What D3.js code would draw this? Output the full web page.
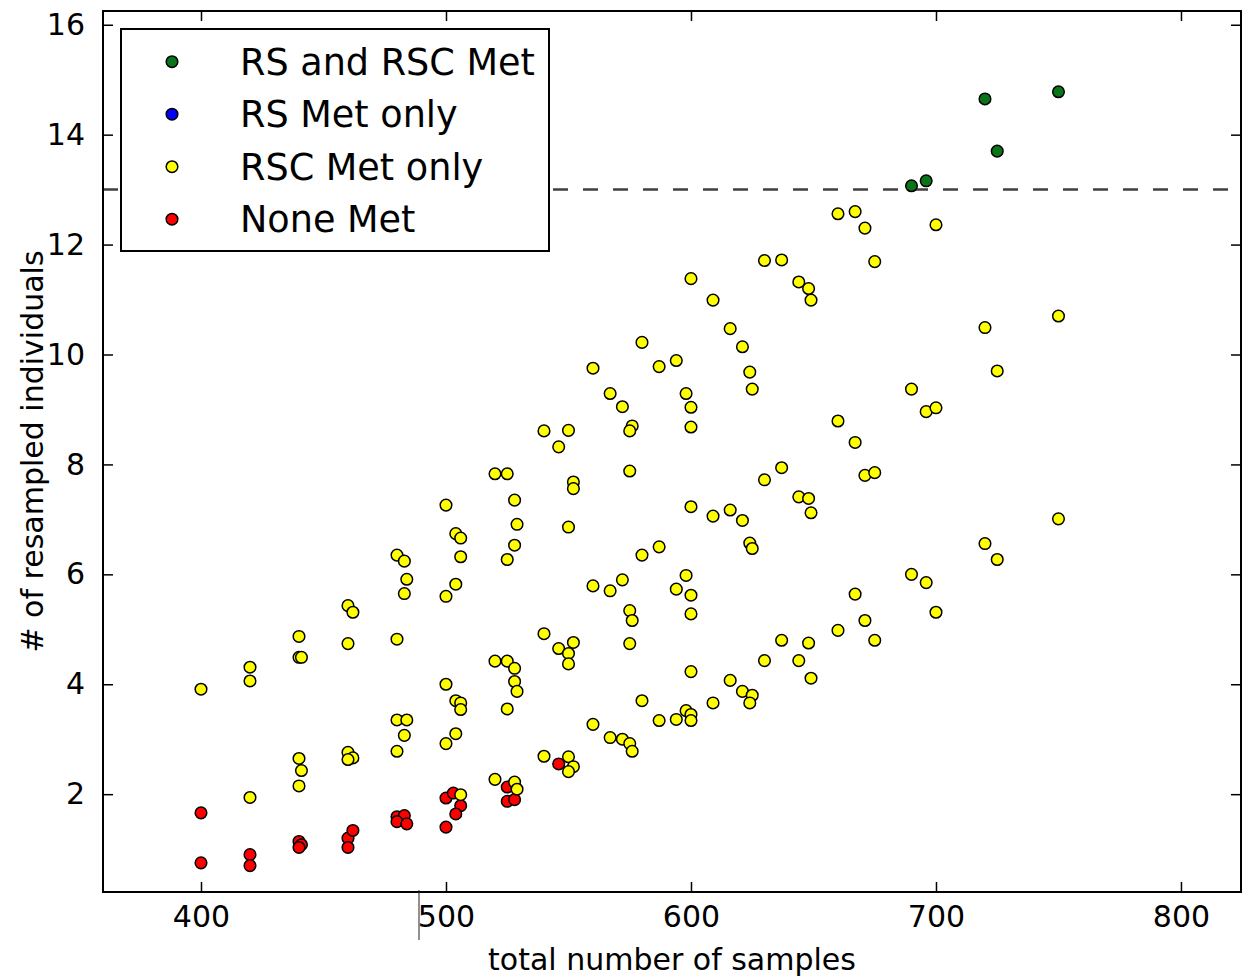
<!DOCTYPE html>
<html>
<head>
<meta charset="utf-8">
<script src="https://cdn.jsdelivr.net/npm/d3@7"></script>
<style>
  body { margin: 0; background: #fff; }
  text { font-family: "DejaVu Sans", sans-serif; fill: #000; }
</style>
</head>
<body>
<svg id="chart" width="1244" height="977"></svg>
<script>
// ---- data: [total samples, resampled individuals] ----
let bothMet = [
  [690, 13.07], [696, 13.16], [720, 14.65], [725, 13.70], [750, 14.78]
];
let rsOnly = [];   // nothing in this category, legend entry only
let rscOnly = [
  [400, 3.91],
  [420, 4.31], [420, 4.06], [420, 1.94],
  [440, 4.87], [440, 4.49], [441, 4.49], [440, 2.65], [441, 2.43], [440, 2.15],
  [460, 5.43], [462, 5.31], [460, 4.74], [460, 2.76], [462, 2.66], [460, 2.63],
  [480, 6.35], [483, 6.24], [484, 5.91], [483, 5.65], [480, 4.82], [480, 3.35], [484, 3.35], [483, 3.07], [480, 2.78],
  [500, 7.26], [504, 6.74], [506, 6.66], [506, 6.32], [504, 5.82], [500, 5.60], [500, 4.00], [504, 3.70], [506, 3.66],
  [506, 3.54], [504, 3.10], [500, 2.92], [506, 1.99],
  [520, 7.83], [525, 7.83], [528, 7.35], [529, 6.91], [528, 6.53], [525, 6.27], [520, 4.42], [525, 4.42], [528, 4.29],
  [528, 4.05], [529, 3.87], [525, 3.55], [520, 2.27], [528, 2.22], [529, 2.09],
  [540, 8.61], [546, 8.32], [550, 8.62], [552, 7.68], [552, 7.56], [550, 6.86], [540, 4.92], [546, 4.65], [552, 4.76],
  [550, 4.56], [550, 4.37], [540, 2.69], [550, 2.68], [552, 2.50], [550, 2.41],
  [560, 9.75], [567, 9.29], [572, 9.05], [576, 8.70], [575, 8.61], [575, 7.88], [560, 5.79], [567, 5.70], [572, 5.90],
  [575, 5.34], [576, 5.16], [575, 4.74], [560, 3.27], [567, 3.03], [572, 3.00], [575, 2.92], [576, 2.78],
  [580, 10.22], [587, 9.78], [594, 9.89], [598, 9.29], [600, 9.04], [600, 8.68], [580, 6.35], [587, 6.50], [594, 5.73],
  [598, 5.98], [600, 5.62], [600, 5.28], [580, 3.70], [587, 3.34], [594, 3.36], [598, 3.52], [600, 3.45], [600, 3.34],
  [600, 11.38], [609, 10.99], [616, 10.47], [621, 10.14], [624, 9.68], [625, 9.37], [600, 7.23], [609, 7.06], [616, 7.17],
  [621, 6.98], [624, 6.57], [625, 6.47], [600, 4.23], [609, 3.66], [616, 4.07], [621, 3.87], [625, 3.80], [624, 3.66],
  [630, 11.71], [637, 11.72], [644, 11.32], [648, 11.20], [649, 10.99], [630, 7.72], [637, 7.94], [644, 7.41], [648, 7.38],
  [649, 7.12], [630, 4.43], [637, 4.80], [644, 4.43], [648, 4.75], [649, 4.11],
  [660, 12.56], [667, 12.60], [671, 12.30], [675, 11.69], [660, 8.79], [667, 8.40], [671, 7.80], [675, 7.85],
  [660, 4.98], [667, 5.64], [671, 5.16], [675, 4.80],
  [690, 9.37], [696, 8.96], [700, 12.36], [700, 9.03], [690, 6.00], [696, 5.85], [700, 5.31],
  [720, 10.49], [720, 6.56], [725, 9.70], [725, 6.27],
  [750, 10.70], [750, 7.01]
];
let noneMet = [
  [400, 1.66], [400, 0.75], [420, 0.90], [420, 0.70], [440, 1.14], [441, 1.08], [440, 1.03],
  [460, 1.20], [460, 1.03], [462, 1.34], [480, 1.59], [483, 1.61], [480, 1.50], [484, 1.46],
  [500, 1.93], [503, 2.02], [506, 1.79], [504, 1.64], [500, 1.40], [525, 2.13], [525, 1.87],
  [528, 1.90], [546, 2.55]
];

let seriesNames = ["RS and RSC Met", "RS Met only", "RSC Met only", "None Met"];
let seriesColors = ["#0a7418", "#0000ff", "#ffff00", "#ff0000"];
let xTicks = [400, 500, 600, 700, 800];
let yTicks = [2, 4, 6, 8, 10, 12, 14, 16];
let threshold = 13;

// ---- layout ----
let svg = d3.select("#chart");
let margin = {left: 103, top: 11, right: 3, bottom: 85};
let width = 1244 - margin.left - margin.right;
let height = 977 - margin.top - margin.bottom;
let dotR = 5.8;

let xscale = d3.scaleLinear().domain([360, 824.5]).range([0, width]);
let yscale = d3.scaleLinear().domain([0.22, 16.25]).range([height, 0]);

let g = svg.append("g").attr("transform", `translate(${margin.left},${margin.top})`);

// dashed threshold line (sits under the legend)
g.append("line")
  .attr("x1", 0).attr("x2", width)
  .attr("y1", yscale(threshold)).attr("y2", yscale(threshold))
  .attr("stroke", "#404040")
  .attr("stroke-width", 2.5)
  .attr("stroke-dasharray", "15,15");

// points: red first, yellow over it, green last
let layers = [
  {data: noneMet, color: seriesColors[3]},
  {data: rsOnly, color: seriesColors[1]},
  {data: rscOnly, color: seriesColors[2]},
  {data: bothMet, color: seriesColors[0]}
];
layers.forEach(layer => {
  g.append("g")
    .selectAll("circle")
    .data(layer.data)
    .enter()
    .append("circle")
    .attr("cx", d => xscale(d[0]))
    .attr("cy", d => yscale(d[1]))
    .attr("r", dotR)
    .attr("fill", layer.color)
    .attr("stroke", "#000")
    .attr("stroke-width", 1.5);
});

// axes, matplotlib classic style: inward ticks on all four sides
let xaxis = d3.axisBottom(xscale).tickValues(xTicks).tickSize(-10).tickPadding(14);
let yaxis = d3.axisLeft(yscale).tickValues(yTicks).tickSize(-10).tickPadding(18);

let gx = g.append("g").attr("transform", `translate(0,${height})`).call(xaxis);
let gy = g.append("g").call(yaxis);
g.append("g").call(d3.axisTop(xscale).tickValues(xTicks).tickSize(-10).tickFormat(""));
g.append("g").attr("transform", `translate(${width},0)`)
  .call(d3.axisRight(yscale).tickValues(yTicks).tickSize(-10).tickFormat(""));

g.selectAll(".domain").remove();
g.selectAll(".tick line").attr("stroke", "#000").attr("stroke-width", 1.5);
gx.selectAll("text").style("font-size", "30px").attr("font-family", "DejaVu Sans");
gy.selectAll("text").style("font-size", "30px").attr("font-family", "DejaVu Sans");

// frame
g.append("rect")
  .attr("width", width).attr("height", height)
  .attr("fill", "none").attr("stroke", "#000").attr("stroke-width", 2);

// axis labels
svg.append("text")
  .attr("x", margin.left + width / 2).attr("y", 970)
  .attr("text-anchor", "middle")
  .style("font-size", "30px")
  .text("total number of samples");
svg.append("text")
  .attr("transform", `translate(43,${margin.top + height / 2}) rotate(-90)`)
  .attr("text-anchor", "middle")
  .style("font-size", "30px")
  .text("# of resampled individuals");

// legend
let legend = g.append("g").attr("transform", "translate(18,18)");
legend.append("rect")
  .attr("width", 428).attr("height", 222)
  .attr("fill", "#fff").attr("stroke", "#000").attr("stroke-width", 2);
let rows = legend.selectAll(".row")
  .data(seriesNames)
  .enter()
  .append("g")
  .attr("class", "row")
  .attr("transform", (d, i) => `translate(0,${32.7 + i * 52.5})`);
rows.append("circle")
  .attr("cx", 51).attr("r", dotR)
  .attr("fill", (d, i) => seriesColors[i])
  .attr("stroke", "#000").attr("stroke-width", 1.5);
rows.append("text")
  .attr("x", 119).attr("y", 13)
  .style("font-size", "36.6px")
  .text(d => d);

// stray vertical mark under the x axis in the original image
svg.append("line")
  .attr("x1", 419).attr("x2", 419)
  .attr("y1", margin.top + height - 2).attr("y2", 940)
  .attr("stroke", "#222").attr("stroke-width", 1);
</script>
</body>
</html>
